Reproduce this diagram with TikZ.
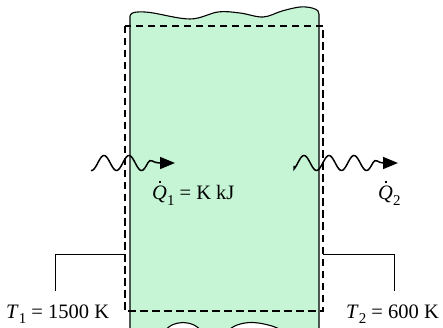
\documentclass[tikz,border=0pt]{standalone}
\usepackage{fontspec}
\setmainfont{Liberation Serif}
\usetikzlibrary{arrows.meta}
\definecolor{slabgreen}{RGB}{197,245,212}
\newcommand\myQdot{\makebox[0pt][l]{\hspace{0.32em}\raisebox{0.82em}{\rule{0.1em}{0.1em}}}\textit{Q}}
\newcommand\mysub[1]{\raisebox{-0.28em}{\fontsize{15}{15}\selectfont #1}}
\tikzset{
  outline/.style={draw=black, line width=1.1pt, fill=slabgreen},
  cvbox/.style={draw=black, line width=1.1pt, dash pattern=on 7.5pt off 4.5pt},
  leader/.style={draw=black, line width=0.6pt},
  heatwave/.style={draw=black, line width=1.5pt, -{Triangle[length=15pt,width=12pt]}},
  lbl/.style={font=\fontsize{20.5}{22}\selectfont, inner sep=0pt}
}
\begin{document}
\begin{tikzpicture}[x=1pt,y=-1pt]
\useasboundingbox (0,0) rectangle (443,328);
\begin{scope}
\clip (0,0) rectangle (443,328);
\path[outline] (130,336) -- plot[smooth, tension=0.6] coordinates {(130,16) (134,12.5) (150,12.5) (190,19) (218,12) (240,13) (263,17) (282,11) (300,7) (312,8) (318,11) (319,16)} -- (319,336)
 -- plot[smooth, tension=0.6] coordinates {(319,336) (290,333) (272,326) (253,322.5) (237,325) (222,333) (205,332) (194,325) (183,322.5) (172,325) (160,332) (130,336)} -- cycle;
\end{scope}
\draw[cvbox] (125,26) rectangle (323,311);
% heat arrows
\coordinate (w1s) at (91.5,170);
\coordinate (w1t) at (175,163);
\coordinate (w2s) at (294,166);
\coordinate (w2t) at (398,163);
\draw[heatwave] (w1s) -- plot[domain=91.5:147.75, samples=60, smooth] (\x, {163 - 7.5*sin(14.4*(\x-72.75))})
  .. controls (150.5,157.5) and (153,163) .. (159,163) -- (w1t);
\draw[heatwave] (w2s) -- plot[domain=294:372.75, samples=80, smooth] (\x, {163 - 7.5*sin(14.4*(\x-297.75))})
  .. controls (375.5,157.5) and (378,163) .. (383,163) -- (w2t);
% labels
\node[lbl, anchor=base west] (q1) at (152,200) {\myQdot\mysub{1} = K kJ};
\node[lbl, anchor=base west] (q2) at (378,200) {\myQdot\mysub{2}};
\node[lbl, anchor=base west] (t1) at (6,318) {\textit{T}\mysub{1} = 1500 K};
\node[lbl, anchor=base west] (t2) at (346,318) {\textit{T}\mysub{2} = 600 K};
% leaders
\coordinate (l1a) at (125,254);
\coordinate (l1b) at (55,291);
\coordinate (l2a) at (323,254);
\coordinate (l2b) at (394,291);
\draw[leader] (l1a) -| (l1b);
\draw[leader] (l2a) -| (l2b);
\end{tikzpicture}
\end{document}
